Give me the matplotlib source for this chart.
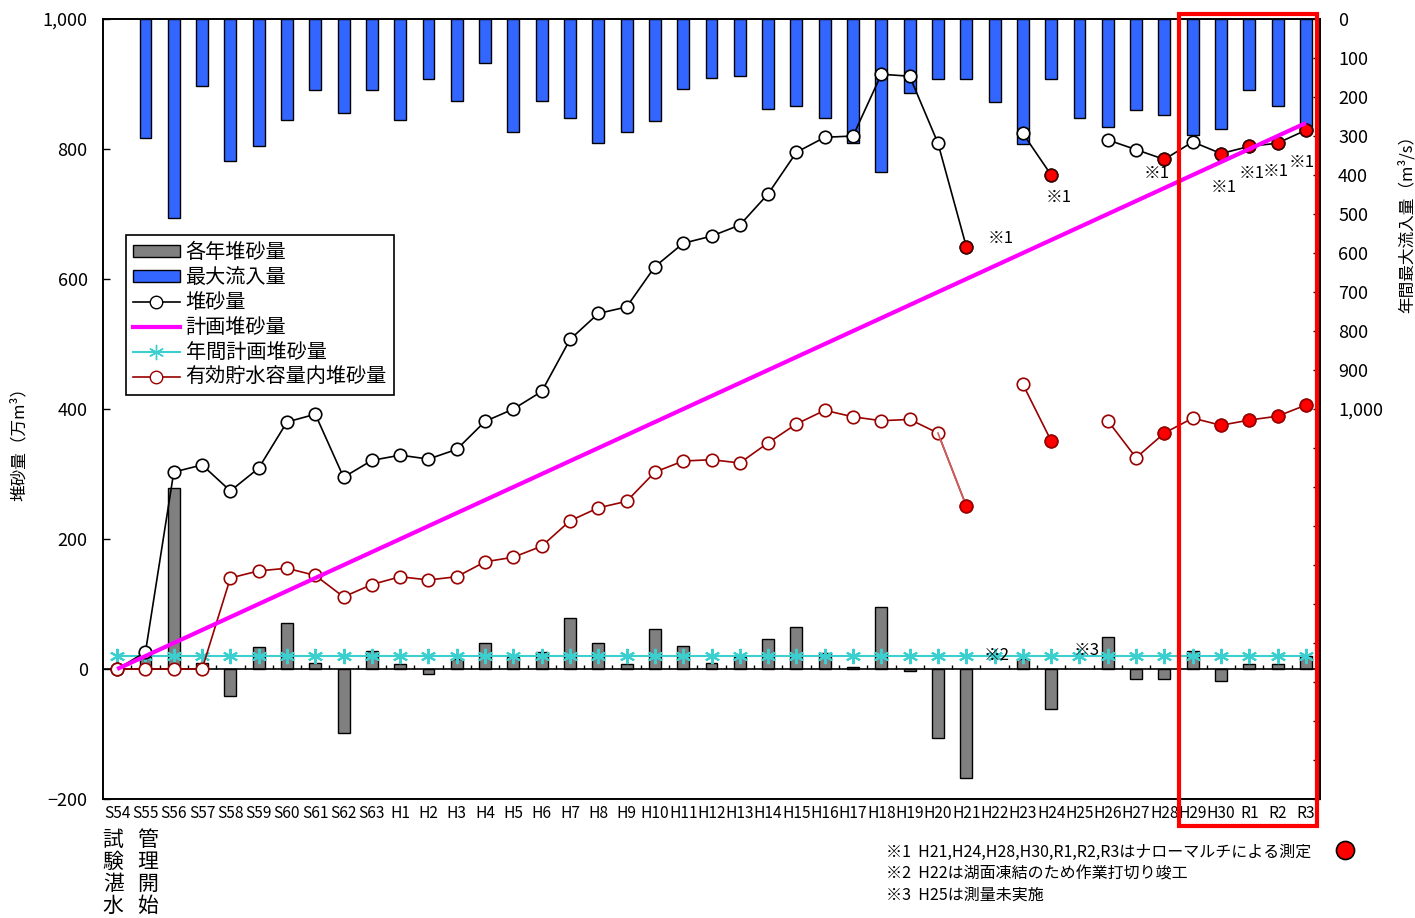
import matplotlib
matplotlib.use('Agg')
import matplotlib.pyplot as plt
import matplotlib.transforms as mtransforms
from matplotlib.patches import Rectangle, Patch
from matplotlib.lines import Line2D
from matplotlib.ticker import FixedLocator, FuncFormatter
import numpy as np

plt.rcParams['font.family'] = ['Noto Sans CJK JP', 'DejaVu Sans']

nan = np.nan

### data ###########################################################
years = ['S54', 'S55', 'S56', 'S57', 'S58', 'S59', 'S60', 'S61', 'S62', 'S63',
         'H1', 'H2', 'H3', 'H4', 'H5', 'H6', 'H7', 'H8', 'H9', 'H10',
         'H11', 'H12', 'H13', 'H14', 'H15', 'H16', 'H17', 'H18', 'H19', 'H20',
         'H21', 'H22', 'H23', 'H24', 'H25', 'H26', 'H27', 'H28', 'H29', 'H30',
         'R1', 'R2', 'R3']

# 年間最大流入量 (m3/s)
max_inflow = [nan, 305, 511, 171, 365, 326, 258, 183, 242, 183,
              258, 155, 210, 113, 290, 210, 254, 317, 290, 261,
              179, 150, 146, 230, 222, 254, 317, 392, 190, 155,
              155, 214, 321, 155, 254, 278, 234, 246, 297, 281,
              182, 222, 289]

# 各年堆砂量 (万m3)
annual_sed = [nan, 22, 278, 10, -41, 34, 71, 10, -98, 27,
              8, -8, 15, 40, 18, 26, 78, 40, 7, 61,
              36, 10, 18, 46, 64, 24, 3, 95, -3, -106,
              -167, nan, 15, -62, nan, 50, -15, -15, 27, -19,
              7, 7, 20]

# 堆砂量
cumulative = [0, 26, 303, 314, 274, 309, 380, 392, 295, 321,
              329, 323, 338, 381, 400, 427, 507, 547, 557, 619,
              655, 666, 683, 731, 795, 818, 820, 915, 912, 809,
              650, nan, 824, 760, nan, 814, 799, 784, 811, 793,
              804, 809, 829]

# 有効貯水容量内堆砂量
effective = [0, 0, 0, 0, 140, 151, 155, 144, 111, 130,
             142, 137, 142, 165, 172, 189, 228, 248, 258, 303,
             320, 322, 317, 348, 377, 398, 388, 382, 384, 363,
             251, nan, 438, 351, nan, 382, 325, 363, 386, 375,
             383, 389, 406]

# 計画堆砂量
plan_cum = [0, 20, 40, 60, 80, 100, 120, 140, 160, 180,
            200, 220, 240, 260, 280, 300, 320, 340, 360, 380,
            400, 420, 440, 460, 480, 500, 520, 540, 560, 580,
            600, 620, 640, 660, 680, 700, 720, 740, 760, 780,
            800, 820, 840]

# 年間計画堆砂量
plan_annual = [20] * len(years)

# ナローマルチによる測定年
narrow = ['H21', 'H24', 'H28', 'H30', 'R1', 'R2', 'R3']

notes = ['※1  H21,H24,H28,H30,R1,R2,R3はナローマルチによる測定',
         '※2  H22は湖面凍結のため作業打切り竣工',
         '※3  H25は測量未実施']

### plot ###########################################################
x = np.arange(len(years))
cum = np.array(cumulative, dtype=float)
eff = np.array(effective, dtype=float)
nidx = np.array([years.index(y) for y in narrow])
MS = 9

fig = plt.figure(figsize=(14.15, 9.18), dpi=100)
ax = fig.add_axes([0.0728, 0.1296, 0.8601, 0.8497])
ax2 = ax.twinx()
ax.set_zorder(ax2.get_zorder() + 1)
ax.patch.set_visible(False)

# right axis : max inflow, hanging bars
ax2.bar(x, max_inflow, width=0.42, color='#3366FF', edgecolor='black', linewidth=1)
ax2.set_ylim(2000, 0)
ax2.yaxis.set_major_locator(FixedLocator(np.arange(0, 2001, 100)))
ax2.yaxis.set_major_formatter(FuncFormatter(lambda v, p: f'{v:,.0f}' if v <= 1000 else ''))
ax2.tick_params(axis='y', direction='in', length=5, width=1, pad=13, labelsize=13)
ax2.set_ylabel('年間最大流入量（m³/s）', fontsize=12, rotation=90)
ax2.yaxis.set_label_coords(1.064, 0.742)

# left axis
ax.bar(x, annual_sed, width=0.42, color='#808080', edgecolor='black', linewidth=1, zorder=2)
ax.axhline(0, color='black', lw=1.2, zorder=2.5)
ax.vlines(x[:-1] + 0.5, 0, 6, color='black', lw=1, zorder=2.5)

ax.plot(x, plan_annual, color='#3CCFCF', lw=1.5, marker=(6, 2, 0), ms=11, mew=1.5, zorder=3)

ax.plot(x, cum, color='black', lw=1.2, marker='o', ms=MS, mfc='white',
        mec='black', mew=1.2, zorder=4)
ax.plot(x[nidx], cum[nidx], ls='none', marker='o', ms=MS, mfc='#FF0000',
        mec='#400000', mew=1.2, zorder=4.1)

ax.plot(x, eff, color='#990000', lw=1.2, marker='o', ms=MS, mfc='white',
        mec='#990000', mew=1.2, zorder=5)
ax.plot(x[29:31], eff[29:31], color='#D06060', lw=1.2, zorder=5.1)
ax.plot(x[nidx], eff[nidx], ls='none', marker='o', ms=MS, mfc='#FF0000',
        mec='#990000', mew=1.2, zorder=5.2)

ax.plot(x, plan_cum, color='#FF00FF', lw=3, zorder=6, solid_capstyle='butt')

ax.set_xlim(-0.5, len(years) - 0.5)
ax.set_ylim(-200, 1000)
ax.set_yticks(np.arange(-200, 1001, 200))
ax.yaxis.set_major_formatter(FuncFormatter(lambda v, p: f'{v:,.0f}'.replace('-', '−')))
ax.tick_params(axis='y', direction='in', length=5, width=1, pad=11, labelsize=13)
ax.set_xticks(x)
ax.set_xticklabels(years, fontsize=11.2)
ax.tick_params(axis='x', length=0, pad=4)
ax.set_ylabel('堆砂量（万m³）', fontsize=12)
ax.yaxis.set_label_coords(-0.062, 0.46)

for a in (ax, ax2):
    for s in a.spines.values():
        s.set_linewidth(1.2)

# ※ notes on the chart
note_off = {'H21': (34, 8), 'H24': (8, -22), 'H28': (-8, -14), 'H30': (3, -34),
            'R1': (2, -27), 'R2': (-2, -28), 'R3': (-4, -32)}
for y, off in note_off.items():
    i = years.index(y)
    ax.annotate('※1', (i, cum[i]), xytext=off, textcoords='offset pixels',
                ha='center', va='center', fontsize=12, zorder=7)
ax.annotate('※2', (years.index('H22'), plan_annual[0]), xytext=(2, 1),
            textcoords='offset pixels', ha='center', va='center', fontsize=12, zorder=7)
ax.annotate('※3', (years.index('H25'), plan_annual[0]), xytext=(7, 6),
            textcoords='offset pixels', ha='center', va='center', fontsize=12, zorder=7)

# 試験湛水 / 管理開始
btm = mtransforms.blended_transform_factory(ax.transData, ax.transAxes)
ax.annotate('\n'.join('試験湛水'), (0, 0), xycoords=btm, xytext=(-4, -30),
            textcoords='offset pixels', ha='center', va='top', fontsize=15,
            linespacing=1.0, annotation_clip=False)
ax.annotate('\n'.join('管理開始'), (1, 0), xycoords=btm, xytext=(2, -30),
            textcoords='offset pixels', ha='center', va='top', fontsize=15,
            linespacing=1.0, annotation_clip=False)

# highlight frame H29 - R3
ax.add_patch(Rectangle((37.5, -0.035), 4.9, 1.042, transform=btm, fill=False,
                       edgecolor='#FF0000', linewidth=3, clip_on=False, zorder=10))

# legend
handles = [Patch(facecolor='#808080', edgecolor='black'),
           Patch(facecolor='#3366FF', edgecolor='black'),
           Line2D([], [], color='black', lw=1.2, marker='o', ms=MS, mfc='white', mec='black'),
           Line2D([], [], color='#FF00FF', lw=3),
           Line2D([], [], color='#3CCFCF', lw=1.5, marker=(6, 2, 0), ms=11),
           Line2D([], [], color='#990000', lw=1.2, marker='o', ms=MS, mfc='white', mec='#990000')]
labels = ['各年堆砂量', '最大流入量', '堆砂量', '計画堆砂量', '年間計画堆砂量', '有効貯水容量内堆砂量']
leg = ax.legend(handles, labels, loc='upper left', bbox_to_anchor=(0.019, 0.723),
                fontsize=14.5, frameon=True, fancybox=False, edgecolor='black',
                framealpha=1, borderpad=0.35, labelspacing=0.2, handlelength=2.3,
                handleheight=0.5, handletextpad=0.3, borderaxespad=0)
leg.get_frame().set_linewidth(1.2)
leg.set_zorder(8)

# footnotes
for k, t in enumerate(notes):
    fig.text(0.626, 0.0719 - k * 0.0235, t, fontsize=11.5, va='center')
fig.add_artist(Line2D([0.9505], [0.074], transform=fig.transFigure, marker='o', ms=13,
                      mfc='#FF0000', mec='black', mew=1.2, ls='none'))

fig.savefig('out.png', dpi=100)
